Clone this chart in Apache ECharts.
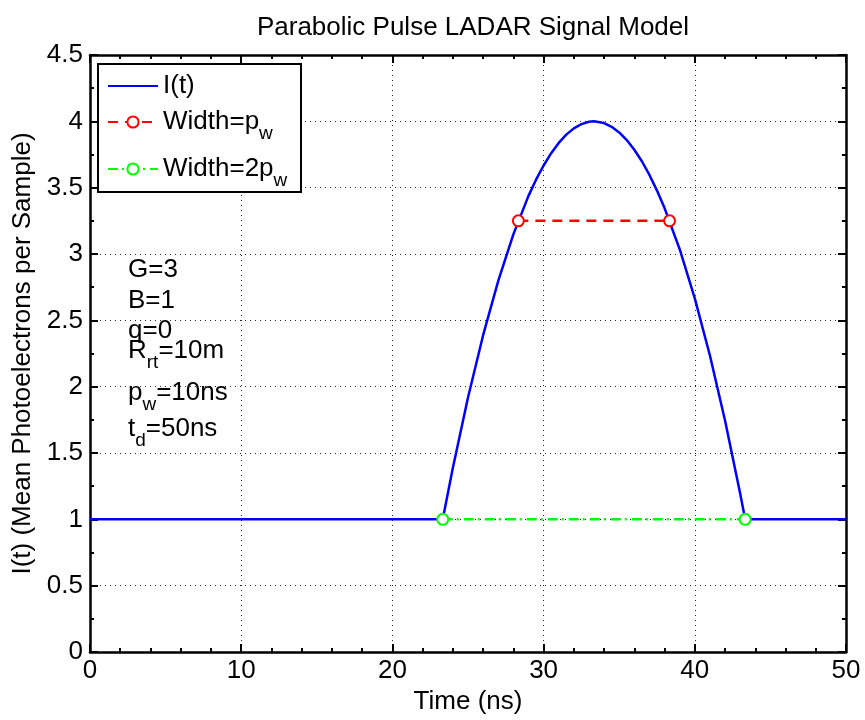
<!DOCTYPE html>
<html>
<head>
<meta charset="utf-8">
<script src="https://cdn.jsdelivr.net/npm/echarts@6/dist/echarts.min.js"></script>
<style>
  html, body { margin: 0; padding: 0; background: #fff; }
  #chart { width: 865px; height: 720px; }
</style>
</head>
<body>
<div id="chart"></div>
<script>
// time samples (ns) and I(t)
const timeNs = [0, 5, 10, 15, 20, 23.33, 24, 25, 26, 27, 28, 29, 29.5, 30, 30.5, 31, 31.5, 32, 32.5, 33, 33.33,
  34, 34.5, 35, 35.5, 36, 36.5, 37, 37.5, 38, 39, 40, 41, 42, 43, 43.33, 45, 50];
const intensity = [1, 1, 1, 1, 1, 1, 1.389, 1.918, 2.388, 2.798, 3.148, 3.438, 3.560, 3.667, 3.760, 3.837, 3.900,
  3.947, 3.979, 3.997, 4,
  3.987, 3.959, 3.916, 3.859, 3.786, 3.699, 3.596, 3.478, 3.346, 3.036, 2.665, 2.235, 1.745, 1.195, 1, 1, 1];

// width markers
const pwTimes = [28.33, 38.33];
const pwLevel = [3.25, 3.25];
const pw2Times = [23.33, 43.33];
const pw2Level = [1, 1];

const seriesNames = ['I(t)', 'Width=p_w', 'Width=2p_w'];
const paramLines = [
  ['G=3'], ['B=1'], ['q=0'],
  ['R', 'rt', '=10m'], ['p', 'w', '=10ns'], ['t', 'd', '=50ns']
];

const FONT = 'Liberation Sans, Arial, sans-serif';
const FS = 26;
const zip = (xs, ys) => xs.map((x, i) => [x, ys[i]]);
const subRich = { s: { fontFamily: FONT, fontSize: 19, padding: [24, 0, 0, 0] } };

let myChart = echarts.init(document.getElementById('chart'));

const tickInside = { show: true, inside: true, length: 8, lineStyle: { color: '#000', width: 2 } };
const minorInside = { show: true, splitNumber: 5, length: 4, lineStyle: { color: '#000', width: 2 } };
const boxLine = { show: true, onZero: false, lineStyle: { color: '#000', width: 2.5 } };
const gridDots = { show: true, lineStyle: { color: '#222', width: 1, type: [1, 4] } };

// parameter text block
const textTops = [257, 288, 318, 338, 380, 416];
let textItems = paramLines.map((p, i) => ({
  type: 'text',
  left: 128,
  top: textTops[i],
  z: 10,
  style: {
    text: p.length === 1 ? p[0] : p[0] + '{s|' + p[1] + '}' + p[2],
    fontFamily: FONT,
    fontSize: FS,
    fill: '#000',
    rich: subRich
  }
}));

// legend frame
textItems.push({
  type: 'rect',
  left: 97,
  top: 63,
  z: 5,
  shape: { width: 203, height: 128 },
  style: { fill: '#fff', stroke: '#000', lineWidth: 2 }
});

const legendTops = [73, 109, 156];
let legends = seriesNames.map((n, i) => ({
  left: 107,
  top: legendTops[i],
  z: 6,
  padding: 0,
  itemWidth: 50,
  itemHeight: 14,
  data: [n],
  itemStyle: i === 0 ? { opacity: 0 } : {},
  formatter: name => name.replace('p_w', 'p{s|w}'),
  textStyle: { fontFamily: FONT, fontSize: FS, color: '#000', rich: subRich }
}));

myChart.setOption({
  animation: false,
  title: {
    text: 'Parabolic Pulse LADAR Signal Model',
    left: 468,
    top: 10,
    textAlign: 'center',
    textStyle: { fontFamily: FONT, fontSize: FS, fontWeight: 'normal', color: '#000' }
  },
  grid: { left: 90, right: 19, top: 55, bottom: 68 },
  legend: legends,
  xAxis: [
    {
      type: 'value', min: 0, max: 50, interval: 10,
      name: 'Time (ns)', nameLocation: 'middle', nameGap: 35,
      nameTextStyle: { fontFamily: FONT, fontSize: FS, color: '#000' },
      axisLine: boxLine, axisTick: tickInside, minorTick: minorInside,
      splitLine: gridDots,
      axisLabel: { fontFamily: FONT, fontSize: FS, color: '#000', margin: 6 }
    },
    {
      type: 'value', min: 0, max: 50, interval: 10, position: 'top',
      axisLine: boxLine, axisTick: tickInside, minorTick: minorInside,
      splitLine: { show: false }, axisLabel: { show: false }
    }
  ],
  yAxis: [
    {
      type: 'value', min: 0, max: 4.5, interval: 0.5,
      name: 'I(t) (Mean Photoelectrons per Sample)', nameLocation: 'middle', nameGap: 50,
      nameTextStyle: { fontFamily: FONT, fontSize: FS, color: '#000' },
      axisLine: boxLine, axisTick: tickInside,
      minorTick: Object.assign({}, minorInside, { splitNumber: 2 }),
      splitLine: gridDots,
      axisLabel: { fontFamily: FONT, fontSize: FS, color: '#000', margin: 7 }
    },
    {
      type: 'value', min: 0, max: 4.5, interval: 0.5, position: 'right',
      axisLine: boxLine, axisTick: tickInside,
      minorTick: Object.assign({}, minorInside, { splitNumber: 2 }),
      splitLine: { show: false }, axisLabel: { show: false }
    }
  ],
  series: [
    {
      name: seriesNames[0],
      type: 'line',
      data: zip(timeNs, intensity),
      symbol: 'none',
      lineStyle: { color: '#0000ff', width: 2.5 },
      itemStyle: { color: '#0000ff' },
      z: 2
    },
    {
      name: seriesNames[1],
      type: 'line',
      data: zip(pwTimes, pwLevel),
      symbol: 'emptyCircle',
      symbolSize: 11,
      lineStyle: { color: '#ff0000', width: 2.5, type: [10, 7] },
      itemStyle: { color: '#ff0000', borderWidth: 2.5 },
      z: 3
    },
    {
      name: seriesNames[2],
      type: 'line',
      data: zip(pw2Times, pw2Level),
      symbol: 'emptyCircle',
      symbolSize: 11,
      lineStyle: { color: '#00ff00', width: 2.5, type: [10, 4, 2, 5] },
      itemStyle: { color: '#00ff00', borderWidth: 2.5 },
      z: 3
    }
  ],
  graphic: textItems
});

window.addEventListener('resize', () => {
  myChart.resize();
});
</script>
</body>
</html>
